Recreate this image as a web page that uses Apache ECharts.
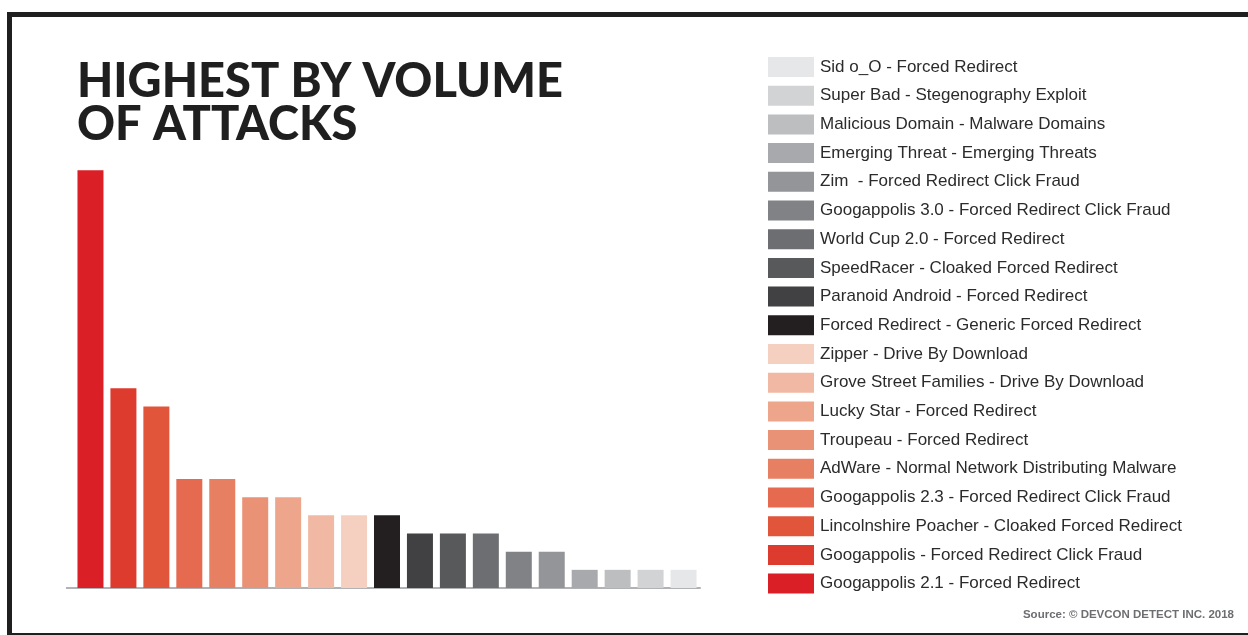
<!DOCTYPE html>
<html>
<head>
<meta charset="utf-8">
<script src="https://cdn.jsdelivr.net/npm/echarts@6/dist/echarts.min.js"></script>
<style>
html,body{margin:0;padding:0;background:#fff;}
#c{width:1248px;height:635px;}
</style>
</head>
<body>
<div id="c"></div>
<script>
// Data (bar order, left to right)
const categories = [
  "Googappolis 2.1 - Forced Redirect",
  "Googappolis - Forced Redirect Click Fraud",
  "Lincolnshire Poacher - Cloaked Forced Redirect",
  "Googappolis 2.3 - Forced Redirect Click Fraud",
  "AdWare - Normal Network Distributing Malware",
  "Troupeau - Forced Redirect",
  "Lucky Star - Forced Redirect",
  "Grove Street Families - Drive By Download",
  "Zipper - Drive By Download",
  "Forced Redirect - Generic Forced Redirect",
  "Paranoid Android - Forced Redirect",
  "SpeedRacer - Cloaked Forced Redirect",
  "World Cup 2.0 - Forced Redirect",
  "Googappolis 3.0 - Forced Redirect Click Fraud",
  "Zim  - Forced Redirect Click Fraud",
  "Emerging Threat - Emerging Threats",
  "Malicious Domain - Malware Domains",
  "Super Bad - Stegenography Exploit",
  "Sid o_O - Forced Redirect"
];
const values = [23, 11, 10, 6, 6, 5, 5, 4, 4, 4, 3, 3, 3, 2, 2, 1, 1, 1, 1];
const palette = [
  "#DA1F26", "#DE3B2F", "#E1553B", "#E56A4F", "#E77F63", "#EA9276", "#EDA68C", "#F1B9A4", "#F5D0C0",
  "#231F20", "#414042", "#58595B", "#6D6E71", "#808285", "#939598", "#A7A9AC", "#BCBEC0", "#D1D3D4", "#E6E7E8"
];
const titleLines = ["HIGHEST BY VOLUME", "OF ATTACKS"];
const sourceText = "Source: \u00A9 DEVCON DETECT INC. 2018";

const chart = echarts.init(document.getElementById('c'), null, {renderer: 'canvas'});

const series = categories.map((name, i) => ({
  name: name,
  type: 'bar',
  stack: 'all',
  barWidth: 26,
  itemStyle: { color: palette[i] },
  emphasis: { disabled: true },
  data: values.map((v, j) => (j === i ? v : null))
}));

chart.setOption({
  animation: false,
  backgroundColor: '#ffffff',
  color: palette,
  title: {
    text: titleLines.join('\n'),
    left: 72,
    top: 55,
    textStyle: {
      fontFamily: 'Lato',
      fontWeight: 900,
      fontSize: 47,
      lineHeight: 43,
      color: '#1f1f1f'
    }
  },
  legend: {
    orient: 'vertical',
    left: 763,
    top: 52,
    itemWidth: 46,
    itemHeight: 20,
    itemGap: 8.7,
    icon: 'rect',
    selectedMode: false,
    data: categories.slice().reverse(),
    textStyle: {
      fontFamily: 'Liberation Sans',
      fontSize: 17,
      color: '#2b2b2b',
      padding: [0, 0, 0, 1]
    }
  },
  grid: {
    left: 74,
    width: 626,
    top: 134,
    bottom: 47
  },
  xAxis: {
    type: 'category',
    data: categories,
    axisLine: { show: true, lineStyle: { color: '#b0b2b5', width: 2 } },
    axisTick: { show: false },
    axisLabel: { show: false }
  },
  yAxis: {
    type: 'value',
    min: 0,
    max: 25,
    show: false,
    splitLine: { show: false }
  },
  series: series,
  graphic: [
    { type: 'rect', shape: { x: 7, y: 12, width: 1241, height: 5 }, style: { fill: '#1f1f1f' }, silent: true },
    { type: 'rect', shape: { x: 7, y: 12, width: 5, height: 623 }, style: { fill: '#1f1f1f' }, silent: true },
    { type: 'rect', shape: { x: 7, y: 633, width: 1241, height: 2 }, style: { fill: '#1f1f1f' }, silent: true },
    { type: 'rect', shape: { x: 66, y: 587, width: 10, height: 2 }, style: { fill: '#b0b2b5' }, silent: true },
    {
      type: 'text',
      right: 14,
      top: 609,
      style: {
        text: sourceText,
        fontFamily: 'Liberation Sans',
        fontWeight: 'bold',
        fontSize: 11.5,
        fill: '#6d6e71'
      }
    }
  ]
});
</script>
</body>
</html>
